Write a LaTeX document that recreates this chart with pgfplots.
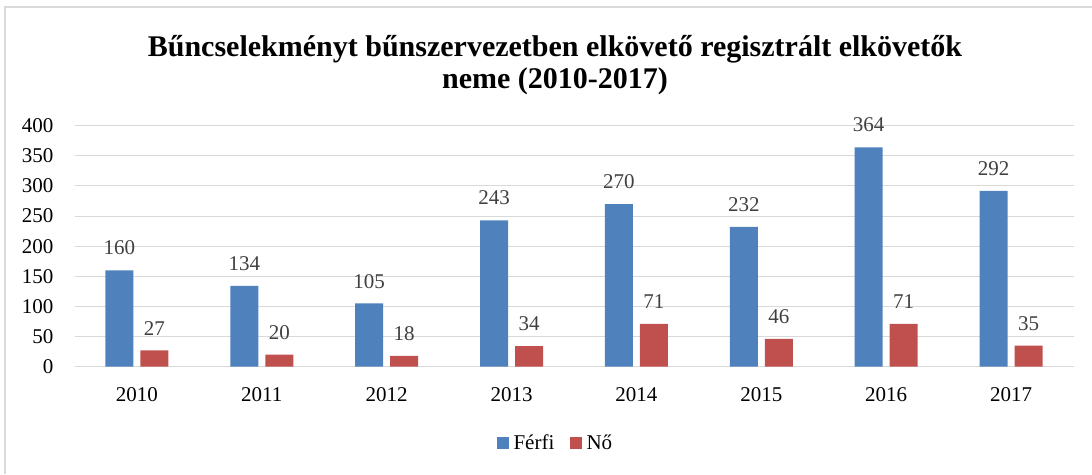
\documentclass[border=0pt]{standalone}
\usepackage{fontspec}
\setmainfont{Liberation Serif}
\usepackage{pgfplots}
\pgfplotsset{compat=1.18}
\definecolor{blu}{HTML}{4F81BD}
\definecolor{rd}{HTML}{C0504D}
\definecolor{lbl}{HTML}{404040}
\definecolor{grd}{HTML}{D9D9D9}
\begin{document}
\begin{tikzpicture}[x=1pt,y=1pt]
\useasboundingbox (0,0) rectangle (1092,474);
\draw[grd, line width=1.2pt] (5,0) -- (5,467) -- (1092,467);
\node[font=\bfseries\fontsize{30}{32}\selectfont, align=center] at (555,409) {Bűncselekményt bűnszervezetben elkövető regisztrált elkövetők\\neme (2010-2017)};
\begin{axis}[
  at={(74.5pt,107.3pt)}, anchor=south west,
  scale only axis, width=999pt, height=241pt,
  ybar, bar width=28pt, ybar=7pt,
  ymin=0, ymax=400, xmin=-0.5, xmax=7.5,
  xtick={0,...,7}, xticklabels={2010,2011,2012,2013,2014,2015,2016,2017},
  ytick={0,50,...,400},
  ymajorgrids, grid style={grd, line width=1pt},
  axis x line*=bottom, axis y line*=left,
  x axis line style={grd, line width=1.5pt, -},
  y axis line style={draw=none},
  major tick length=0pt, tick style={draw=none},
  tick label style={font=\fontsize{21}{25}\selectfont, text=black},
  yticklabel style={anchor=east, inner sep=0pt, xshift=-21pt},
  xticklabel style={anchor=north, inner sep=0pt, yshift=-21pt},
  /pgf/number format/assume math mode=true,
  nodes near coords,
  nodes near coords style={font=\fontsize{21}{25}\selectfont, text=lbl, inner sep=0pt, anchor=south, yshift=15pt},
  legend style={at={(0.483,-0.3166)}, anchor=center, draw=none, legend columns=-1,
    font=\fontsize{21}{25}\selectfont,
    /tikz/every even column/.append style={column sep=11.5pt},
    nodes={inner sep=4.5pt}},
  legend image code/.code={\fill[#1] (0pt,-5.8pt) rectangle (11.7pt,5.8pt);},
]
\addplot[fill=blu, draw=none] coordinates {(0,160) (1,134) (2,105) (3,243) (4,270) (5,232) (6,364) (7,292)};
\addplot[fill=rd, draw=none] coordinates {(0,27) (1,20) (2,18) (3,34) (4,71) (5,46) (6,71) (7,35)};
\legend{Férfi, Nő}
\end{axis}
\end{tikzpicture}
\end{document}
